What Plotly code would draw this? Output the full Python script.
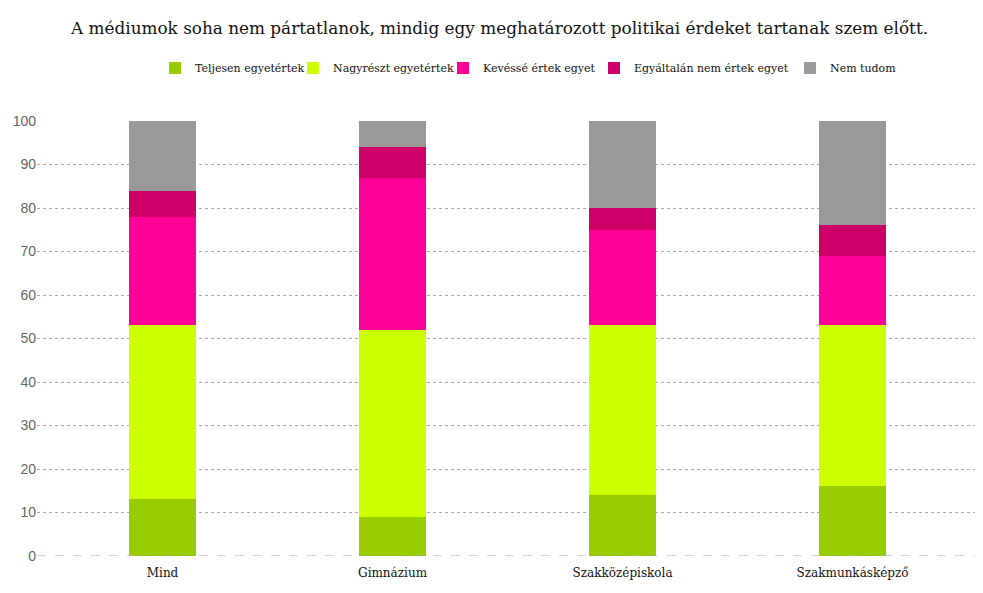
import plotly.graph_objects as go

categories = ["Mind", "Gimnázium", "Szakközépiskola", "Szakmunkásképző"]
teljesen = [13, 9, 14, 16]
nagyreszt = [40, 43, 39, 37]
kevesse = [25, 35, 22, 16]
egyaltalan = [6, 7, 5, 7]
nem_tudom = [16, 6, 20, 24]
y_ticks = [0, 10, 20, 30, 40, 50, 60, 70, 80, 90, 100]

series = [
    ("Teljesen egyetértek", teljesen, "#99cc00"),
    ("Nagyrészt egyetértek", nagyreszt, "#ccff00"),
    ("Kevéssé értek egyet", kevesse, "#ff0099"),
    ("Egyáltalán nem értek egyet", egyaltalan, "#cc0066"),
    ("Nem tudom", nem_tudom, "#999999"),
]

# left edge of each legend entry (px in the figure)
legend_left = [147, 285, 435, 586, 782]

fig = go.Figure()
legends = {}
for i, (name, vals, col) in enumerate(series):
    lg = "legend" if i == 0 else "legend%d" % (i + 1)
    fig.add_trace(go.Bar(x=categories, y=vals, name=name,
                         marker_color=col, marker_line_width=0,
                         width=0.29, legend=lg))
    legends[lg] = dict(orientation="h", xref="container", yref="container",
                       x=legend_left[i] / 983, xanchor="left",
                       y=1 - 60 / 593, yanchor="middle",
                       font=dict(family="DejaVu Serif", size=11, color="#111111"),
                       bgcolor="rgba(0,0,0,0)")

fig.update_layout(
    barmode="stack",
    width=983, height=593,
    margin=dict(l=29, r=11, t=113, b=45),
    paper_bgcolor="white", plot_bgcolor="white",
    title=dict(text="A médiumok soha nem pártatlanok, mindig egy meghatározott politikai érdeket tartanak szem előtt.",
               x=0.5, xanchor="center", y=1 - 20 / 593, yanchor="middle",
               font=dict(family="DejaVu Serif", size=16.85, color="#111111")),
    showlegend=True,
    **legends,
)
fig.update_xaxes(range=[-0.5457, 3.554], showgrid=False, showline=False, ticks="",
                 ticklabelstandoff=8, automargin=False,
                 tickfont=dict(family="DejaVu Serif", size=12, color="#111111"))
fig.update_yaxes(range=[0, 100], tickvals=y_ticks, showgrid=True,
                 gridcolor="#aaaaaa", griddash="dot", gridwidth=1,
                 zeroline=False, automargin=False,
                 tickfont=dict(family="Liberation Sans", size=14, color="#666666"))
fig.add_hline(y=0, line=dict(color="#aaaaaa", width=1, dash="dash"))

fig.write_html("out.html")
